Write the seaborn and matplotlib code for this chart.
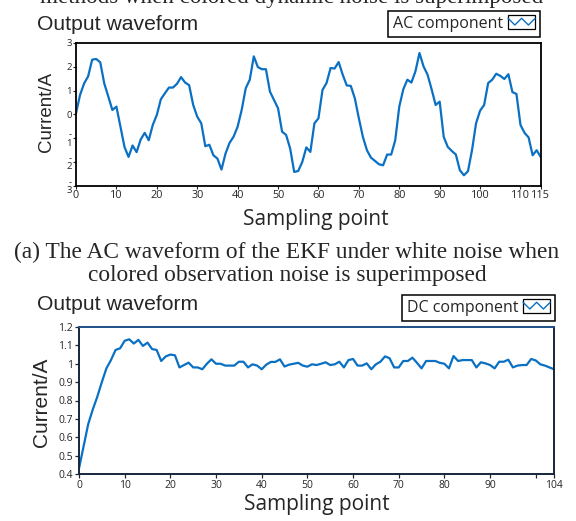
import numpy as np
import matplotlib
matplotlib.use("Agg")
import matplotlib.pyplot as plt
import seaborn as sns
from matplotlib.legend_handler import HandlerBase
from matplotlib.patches import Rectangle
from matplotlib.lines import Line2D

# AC waveform, sampling points 0..115
ac_current = [
    0.05, 0.82, 1.30, 1.60, 2.30, 2.33, 2.19, 1.30, 0.75, 0.19,
    0.33, -0.51, -1.36, -1.78, -1.30, -1.58, -1.05, -0.77, -1.08, -0.44,
    -0.02, 0.64, 0.89, 1.13, 1.13, 1.29, 1.57, 1.34, 1.23, 0.40,
    -0.09, -0.37, -1.33, -1.27, -1.71, -1.85, -2.31, -1.64, -1.19, -0.93,
    -0.51, 0.19, 1.10, 1.46, 2.44, 1.99, 1.90, 1.90, 0.96, 0.61,
    0.26, -0.72, -0.86, -1.43, -2.41, -2.37, -1.99, -1.38, -1.57, -0.37,
    -0.16, 1.03, 1.32, 1.95, 1.93, 2.20, 1.67, 1.22, 1.20, 0.68,
    -0.16, -0.94, -1.50, -1.81, -1.95, -2.09, -2.13, -1.68, -1.68, -1.08,
    0.33, 1.06, 1.46, 1.34, 1.81, 2.58, 2.02, 1.67, 1.06, 0.40,
    0.54, -0.94, -1.36, -1.53, -1.68, -2.34, -2.55, -2.38, -1.50, -0.37,
    0.16, 0.40, 1.32, 1.46, 1.71, 1.62, 1.49, 1.69, 0.94, 0.86,
    -0.44, -0.77, -0.96, -1.71, -1.50, -1.78,
]

# DC waveform, sampling points 0..104
dc_current = [
    0.43, 0.55, 0.67, 0.75, 0.82, 0.90, 0.975, 1.02, 1.075, 1.084,
    1.125, 1.133, 1.11, 1.13, 1.097, 1.115, 1.08, 1.075, 1.015, 1.04,
    1.05, 1.046, 0.98, 0.993, 1.006, 0.98, 0.98, 0.97, 1.0, 1.024,
    1.0, 1.0, 0.99, 0.99, 0.99, 1.011, 1.011, 0.98, 0.997, 0.99,
    0.97, 0.995, 1.01, 1.01, 1.024, 0.985, 0.995, 1.0, 1.005, 0.99,
    0.984, 0.997, 0.993, 1.0, 1.008, 0.993, 0.997, 1.011, 0.98, 1.02,
    1.026, 0.99, 0.99, 1.002, 0.97, 0.997, 1.011, 1.04, 1.03, 0.98,
    0.98, 1.015, 1.015, 1.033, 1.005, 0.975, 1.015, 1.015, 1.015, 1.005,
    1.0, 0.975, 1.042, 1.015, 1.02, 1.02, 1.02, 0.98, 1.008, 1.002,
    0.993, 0.975, 1.011, 1.011, 1.022, 0.98, 0.99, 0.993, 0.993, 1.026,
    1.018, 0.997, 0.99, 0.98, 0.97,
]

ac_xticks = [0, 10, 20, 30, 40, 50, 60, 70, 80, 90, 100, 110, 115]
ac_yticks = [3, 2, 1, 0, -1, -2, -3]
ac_ylabels = ["3", "2", "1", "0", "-\n1", "-\n2", "-\n3"]
dc_xticks = [0, 10, 20, 30, 40, 50, 60, 70, 80, 90, 100, 104]
dc_xlabels = ["0", "10", "20", "30", "40", "50", "60", "70", "80", "90", "", "104"]
dc_yticks = [0.4, 0.5, 0.6, 0.7, 0.8, 0.9, 1.0, 1.1, 1.2]
dc_ylabels = ["0.4", "0.5", "0.6", "0.7", "0.8", "0.9", "1", "1.1", "1.2"]

top_caption = "methods when colored dynamic noise is superimposed"
caption_a = ["(a) The AC waveform of the EKF under white noise when",
             "colored observation noise is superimposed"]

blue = "#0a70c4"

sns.set_style("ticks")
plt.rcParams["font.family"] = ["Liberation Sans", "DejaVu Sans"]


class ZigzagHandler(HandlerBase):
    def create_artists(self, legend, orig_handle, xdescent, ydescent,
                       width, height, fontsize, trans):
        x0, y0 = -xdescent, -ydescent
        box = Rectangle((x0, y0 - 0.1 * height), width, 1.2 * height,
                        fill=False, edgecolor="black", linewidth=0.9,
                        transform=trans)
        fx = [0.0, 0.25, 0.5, 0.75, 1.0]
        fy = [0.85, 0.25, 0.85, 0.25, 0.85]
        zig = Line2D([x0 + f * width for f in fx],
                     [y0 + f * height for f in fy],
                     color=orig_handle.get_color(), linewidth=1.0,
                     transform=trans)
        return [box, zig]


fig = plt.figure(figsize=(5.76, 5.21), dpi=100)
W, H = 576.0, 521.0

ax1 = fig.add_axes([76 / W, 1 - 186 / H, 464.7 / W, 143 / H])
ax2 = fig.add_axes([79 / W, 1 - 474 / H, 475 / W, 147 / H])

sns.lineplot(x=np.arange(len(ac_current)), y=ac_current, ax=ax1,
             color=blue, linewidth=1.6, label="AC component")
sns.lineplot(x=np.arange(len(dc_current)), y=dc_current, ax=ax2,
             color=blue, linewidth=1.6, label="DC component")

# top panel
ax1.set_xlim(0, 115)
ax1.set_ylim(-3, 3)
ax1.set_xticks(ac_xticks)
ax1.set_xticklabels([str(t) for t in ac_xticks], family="Open Sans")
ax1.set_yticks(ac_yticks)
ax1.set_yticklabels(ac_ylabels, family="Open Sans", linespacing=0.9)
ax1.tick_params(axis="x", direction="out", length=2, width=0.8, pad=1,
                labelsize=7.8)
ax1.tick_params(axis="y", direction="out", length=2, width=0.8, pad=1,
                labelsize=6.8)
for s in ax1.spines.values():
    s.set_color("black")
    s.set_linewidth(1.3)
ax1.set_xlabel("Sampling point", family="Open Sans", fontsize=15)
ax1.xaxis.set_label_coords(0.516, -0.235)
ax1.xaxis.label.set_va("center")
ax1.set_ylabel("Current/A", fontsize=13.5)
ax1.yaxis.set_label_coords(-0.064, 0.52)
ax1.yaxis.label.set_va("center")

# bottom panel
ax2.set_xlim(0, 104)
ax2.set_ylim(0.4, 1.2)
ax2.set_xticks(dc_xticks)
ax2.set_xticklabels(dc_xlabels, family="Open Sans")
ax2.set_yticks(dc_yticks)
ax2.set_yticklabels(dc_ylabels, family="Open Sans")
ax2.tick_params(axis="both", direction="out", length=3, width=0.9, pad=1.5,
                labelsize=7.5)
for s in ax2.spines.values():
    s.set_color("#16263a")
    s.set_linewidth(1.4)
ax2.spines["top"].set_color("#1d4f86")
ax2.set_xlabel("Sampling point", family="Open Sans", fontsize=15)
ax2.xaxis.set_label_coords(0.5, -0.205)
ax2.xaxis.label.set_va("center")
ax2.set_ylabel("Current/A", fontsize=15)
ax2.yaxis.set_label_coords(-0.079, 0.49)
ax2.yaxis.label.set_va("center")

# legends
for ax, anchor in ((ax1, (540 / W, 1 - 11 / H)), (ax2, (555 / W, 1 - 295 / H))):
    line = ax.get_lines()[0]
    leg = ax.legend(handles=[line], labels=[line.get_label()],
                    handler_map={Line2D: ZigzagHandler()},
                    loc="upper right", bbox_to_anchor=anchor,
                    bbox_transform=fig.transFigure, frameon=True,
                    fancybox=False, edgecolor="black", framealpha=1,
                    borderpad=0.3, borderaxespad=0, handlelength=1.7,
                    handletextpad=0.3, markerfirst=False,
                    prop={"family": "Open Sans", "size": 11.5})
    leg.get_frame().set_linewidth(1.1)

# panel titles
fig.text(37 / W, 1 - 25 / H, "Output waveform", fontsize=15.2, va="center")
fig.text(37 / W, 1 - 304 / H, "Output waveform", fontsize=15.2, va="center")

# captions (serif); the first line is cut by the top edge as in the source
fig.text(292 / W, 1 - 3 / H, top_caption, family="Liberation Serif",
         fontsize=16.6, ha="center", va="baseline")
fig.text(287 / W, 1 - 252 / H, caption_a[0], family="Liberation Serif",
         fontsize=16.8, ha="center", va="center")
fig.text(287 / W, 1 - 276 / H, caption_a[1], family="Liberation Serif",
         fontsize=16.8, ha="center", va="center")

fig.savefig("out.png", dpi=100)
